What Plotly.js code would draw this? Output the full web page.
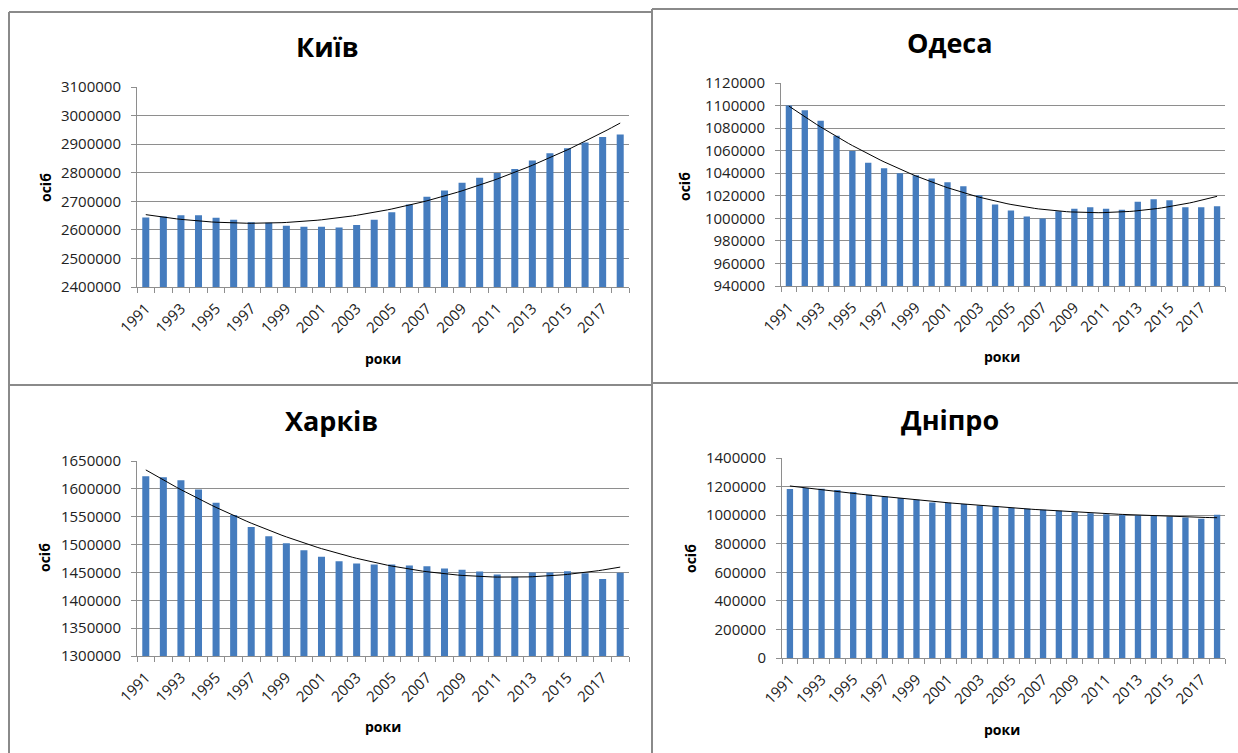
<!DOCTYPE html>
<html>
<head>
<meta charset="utf-8">
<script src="https://cdn.plot.ly/plotly-3.0.1.min.js"></script>
<style>
html,body{margin:0;padding:0;background:#fff;}
#chart{width:1238px;height:753px;}
</style>
</head>
<body>
<div id="chart"></div>
<script>
// ---- data ----
const years = [1991,1992,1993,1994,1995,1996,1997,1998,1999,2000,2001,2002,2003,2004,2005,2006,2007,2008,2009,2010,2011,2012,2013,2014,2015,2016,2017,2018];
const yearLabels = ["1991","1993","1995","1997","1999","2001","2003","2005","2007","2009","2011","2013","2015","2017"];
const cityNames = ["Київ","Одеса","Харків","Дніпро"];
const xTitle = "роки";
const yTitle = "осіб";

const kyiv = [2643000,2647000,2651000,2651000,2642000,2635000,2627000,2625000,2614000,2611000,2611000,2608000,2617000,2635000,2662000,2689000,2716000,2738000,2765000,2782000,2799000,2813000,2843000,2868000,2886000,2906000,2925000,2934000];
const odesa = [1100000,1095800,1086500,1073200,1059800,1049200,1044500,1040000,1038300,1035300,1032100,1028500,1020500,1012200,1006900,1001600,999800,1006300,1008400,1009900,1008400,1007700,1014600,1017000,1016100,1009900,1009900,1010800];
const kharkiv = [1622600,1621000,1615400,1599000,1574900,1553200,1531700,1515000,1502500,1490000,1478000,1470200,1466100,1464300,1464300,1462500,1461300,1457200,1454700,1451800,1446400,1442100,1450000,1450000,1452300,1448700,1438000,1449300];
const dnipro = [1182600,1189600,1184700,1175600,1161500,1142600,1130600,1119400,1107400,1088500,1086400,1077200,1067400,1060400,1051200,1044200,1037200,1030200,1021100,1014000,1007000,1002100,1000000,995100,990200,983100,974000,1002100];

const yRanges = [[2400000,3100000],[940000,1120000],[1300000,1650000],[0,1400000]];
const yDticks = [100000,20000,50000,200000];

// ---- quadratic trendline (least squares, like Excel's polynomial order 2) ----
function quadFit(xs, ys){
  const n = xs.length; let S=[0,0,0,0,0], T=[0,0,0];
  for(let i=0;i<n;i++){const x=xs[i];let p=1;for(let k=0;k<5;k++){S[k]+=p;if(k<3)T[k]+=p*ys[i];p*=x;}}
  const A=[[S[0],S[1],S[2],T[0]],[S[1],S[2],S[3],T[1]],[S[2],S[3],S[4],T[2]]];
  for(let c=0;c<3;c++){for(let r=c+1;r<3;r++){const f=A[r][c]/A[c][c];for(let k=c;k<4;k++)A[r][k]-=f*A[c][k];}}
  const b=[0,0,0];
  for(let r=2;r>=0;r--){let s=A[r][3];for(let k=r+1;k<3;k++)s-=A[r][k]*b[k];b[r]=s/A[r][r];}
  return b;
}

// ---- geometry (pixels) ----
const W=1238,H=753;
const px = x => x/W, py = y => 1 - y/H;
const plots = [
  {x0:137,x1:629,y0:87,y1:287, title:[327,47], xt:[383,358], yt:[45,188]},
  {x0:781,x1:1225,y0:83,y1:286, title:[950,43], xt:[1002,356], yt:[684,187]},
  {x0:137,x1:629,y0:461,y1:656, title:[331,421], xt:[383,726], yt:[44,558]},
  {x0:782,x1:1225,y0:458,y1:658, title:[950,420], xt:[1002,729], yt:[690,559]}
];
const series = [kyiv, odesa, kharkiv, dnipro];
const boundaries = years.map(y=>y-0.5).concat([years[years.length-1]+0.5]);
const tickYears = yearLabels.map(Number);

const FONT = "Open Sans, Liberation Sans, sans-serif";
const GRID = "#8e8e8e";
const BAR = "#457CBE";

const data = [], annotations = [], shapes = [];
const layout = {
  width:W, height:H, margin:{l:0,r:0,t:0,b:0},
  paper_bgcolor:"#fff", plot_bgcolor:"#fff",
  showlegend:false, bargap:0.6,
  font:{family:FONT, color:"#222"}
};

series.forEach((vals, i) => {
  const n = i+1, xa = "x"+(n===1?"":n), ya = "y"+(n===1?"":n);
  const g = plots[i];
  data.push({type:"bar", x:years, y:vals, xaxis:xa, yaxis:ya, marker:{color:BAR, line:{width:0}}, hoverinfo:"x+y"});
  const xc = years.map(y=>y-2004.5);
  const b = quadFit(xc, vals);
  const tx=[], ty=[];
  for(let k=0;k<=108;k++){const yr=years[0]+k*(years[years.length-1]-years[0])/108; const t=yr-2004.5; tx.push(yr); ty.push(b[0]+b[1]*t+b[2]*t*t);}
  data.push({type:"scatter", mode:"lines", x:tx, y:ty, xaxis:xa, yaxis:ya, line:{color:"#000", width:1}, hoverinfo:"skip"});

  layout["xaxis"+(n===1?"":n)] = {
    domain:[px(g.x0), px(g.x1)], anchor:ya, range:[years[0]-0.5, years[years.length-1]+0.5],
    tickmode:"array", tickvals:tickYears, ticktext:yearLabels, tickangle:-45,
    ticks:"", showgrid:false, zeroline:false, showline:true, linecolor:GRID, linewidth:1,
    tickfont:{family:FONT, size:15, color:"#222"}, ticklabelstandoff:6,
    minor:{tickmode:"array", tickvals:boundaries, ticks:"outside", ticklen:5, tickcolor:GRID, tickwidth:1, showgrid:false},
    fixedrange:true
  };
  layout["yaxis"+(n===1?"":n)] = {
    domain:[py(g.y1), py(g.y0)], anchor:xa, range:yRanges[i],
    tickmode:"linear", tick0:yRanges[i][0], dtick:yDticks[i], tickformat:"d",
    ticks:"outside", ticklen:5, tickcolor:GRID, showgrid:true, gridcolor:GRID, gridwidth:1,
    zeroline:false, showline:true, linecolor:GRID, linewidth:1,
    tickfont:{family:FONT, size:15, color:"#222"}, ticklabelstandoff:7, fixedrange:true
  };
  annotations.push({xref:"paper", yref:"paper", x:px(g.title[0]), y:py(g.title[1]), text:"<b>"+cityNames[i]+"</b>", showarrow:false, xanchor:"center", yanchor:"middle", font:{family:FONT, size:27, color:"#000"}});
  annotations.push({xref:"paper", yref:"paper", x:px(g.xt[0]), y:py(g.xt[1]), text:"<b>"+xTitle+"</b>", showarrow:false, xanchor:"center", yanchor:"middle", font:{family:FONT, size:14, color:"#000"}});
  annotations.push({xref:"paper", yref:"paper", x:px(g.yt[0]), y:py(g.yt[1]), text:"<b>"+yTitle+"</b>", showarrow:false, textangle:-90, xanchor:"center", yanchor:"middle", font:{family:FONT, size:14, color:"#000"}});
});

// panel frames
const frame = {type:"line", xref:"paper", yref:"paper", line:{color:"#8a8a8a", width:2}};
[[9,12,9,753],[9,12,652,12],[652,9,652,753],[652,9,1238,9],[9,385,652,385],[652,383,1238,383]].forEach(s=>{
  shapes.push(Object.assign({}, frame, {x0:px(s[0]), y0:py(s[1]), x1:px(s[2]), y1:py(s[3])}));
});
layout.annotations = annotations;
layout.shapes = shapes;

Plotly.newPlot("chart", data, layout, {displayModeBar:false, staticPlot:true});
</script>
</body>
</html>
